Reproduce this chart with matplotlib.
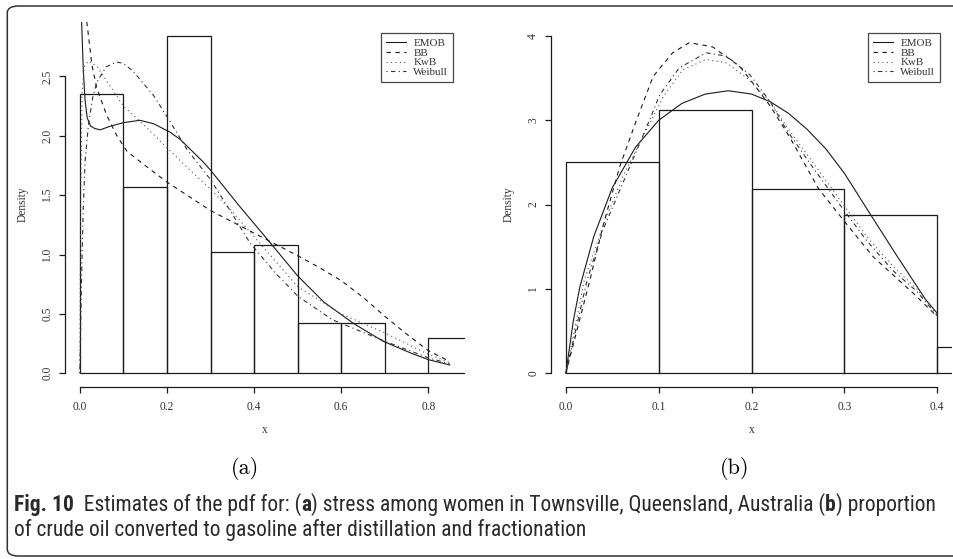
import matplotlib
matplotlib.use("Agg")
import matplotlib.pyplot as plt
from matplotlib import font_manager
from matplotlib.patches import FancyBboxPatch

# ---- data ----
# panel (a): stress among women
hist_a_edges = [0.0, 0.1, 0.2, 0.3, 0.4, 0.5, 0.6, 0.7, 0.8, 0.9]
hist_a_dens = [2.35, 1.57, 2.84, 1.02, 1.08, 0.42, 0.42, 0.0, 0.30]

emob_a_x = [0.004, 0.008, 0.012, 0.017, 0.025, 0.035, 0.047, 0.07, 0.1, 0.138, 0.17,
            0.207, 0.23, 0.283, 0.3, 0.368, 0.43, 0.5, 0.56, 0.628, 0.696, 0.76, 0.8, 0.849]
emob_a_y = [2.97, 2.55, 2.3, 2.15, 2.08, 2.06, 2.05, 2.08, 2.11, 2.13, 2.10,
            2.03, 1.97, 1.78, 1.71, 1.40, 1.13, 0.82, 0.60, 0.42, 0.27, 0.17, 0.115, 0.07]

bb_a_x = [0.016, 0.028, 0.039, 0.062, 0.085, 0.108, 0.146, 0.2, 0.3, 0.4, 0.5,
          0.55, 0.6, 0.65, 0.7, 0.75, 0.8, 0.849]
bb_a_y = [2.96, 2.59, 2.40, 2.17, 2.0, 1.87, 1.76, 1.61, 1.37, 1.18, 0.99,
          0.89, 0.78, 0.64, 0.48, 0.33, 0.19, 0.10]

kwb_a_x = [0.0, 0.002, 0.005, 0.01, 0.02, 0.04, 0.06, 0.08, 0.1, 0.15, 0.2, 0.25,
           0.3, 0.35, 0.4, 0.45, 0.5, 0.6, 0.7, 0.8, 0.849]
kwb_a_y = [0.0, 1.5, 2.35, 2.58, 2.63, 2.58, 2.47, 2.36, 2.25, 2.08, 1.90, 1.72,
           1.55, 1.36, 1.15, 0.94, 0.73, 0.50, 0.34, 0.16, 0.09]

wei_a_x = [0.0, 0.004, 0.008, 0.012, 0.02, 0.03, 0.039, 0.06, 0.085, 0.1, 0.123,
           0.169, 0.207, 0.245, 0.3, 0.345, 0.39, 0.45, 0.5, 0.58, 0.7, 0.8, 0.849]
wei_a_y = [0.0, 0.8, 1.4, 1.78, 2.1, 2.33, 2.45, 2.58, 2.62, 2.61, 2.54,
           2.34, 2.12, 1.89, 1.63, 1.37, 1.10, 0.84, 0.65, 0.45, 0.27, 0.13, 0.08]

# panel (b): crude oil converted to gasoline
hist_b_edges = [0.0, 0.1, 0.2, 0.3, 0.4, 0.5]
hist_b_dens = [2.5, 3.125, 2.1875, 1.875, 0.3125]

emob_b_x = [0.0, 0.008, 0.015, 0.03, 0.05, 0.075, 0.1, 0.125, 0.15, 0.175, 0.2, 0.22,
            0.24, 0.26, 0.28, 0.3, 0.327, 0.356, 0.387, 0.4]
emob_b_y = [0.0, 0.62, 1.02, 1.62, 2.20, 2.68, 3.0, 3.2, 3.31, 3.35, 3.31, 3.22,
            3.08, 2.89, 2.66, 2.37, 1.90, 1.40, 0.88, 0.71]

bb_b_x = [0.0, 0.026, 0.04, 0.058, 0.076, 0.094, 0.115, 0.133, 0.158, 0.187, 0.2,
          0.22, 0.241, 0.272, 0.3, 0.331, 0.374, 0.4]
bb_b_y = [0.0, 1.11, 1.75, 2.45, 3.0, 3.52, 3.80, 3.92, 3.87, 3.64, 3.46,
          3.17, 2.80, 2.19, 1.80, 1.38, 0.95, 0.67]

kwb_b_x = [0.0, 0.02, 0.04, 0.062, 0.087, 0.105, 0.126, 0.151, 0.173, 0.195, 0.22,
           0.238, 0.266, 0.295, 0.324, 0.353, 0.378, 0.4]
kwb_b_y = [0.0, 1.11, 1.75, 2.35, 2.89, 3.28, 3.60, 3.72, 3.68, 3.50, 3.22,
           2.92, 2.50, 2.06, 1.62, 1.26, 1.00, 0.70]

wei_b_x = [0.0, 0.023, 0.04, 0.065, 0.09, 0.101, 0.122, 0.151, 0.173, 0.198, 0.22,
           0.238, 0.266, 0.295, 0.324, 0.353, 0.378, 0.4]
wei_b_y = [0.0, 1.11, 1.70, 2.35, 3.0, 3.30, 3.62, 3.80, 3.76, 3.54, 3.22,
           2.88, 2.44, 2.0, 1.57, 1.21, 0.97, 0.68]

legend_labels = ["EMOB", "BB", "KwB", "Weibull"]

xticks_a = [0.0, 0.2, 0.4, 0.6, 0.8]
yticks_a = [0.0, 0.5, 1.0, 1.5, 2.0, 2.5]
xticks_b = [0.0, 0.1, 0.2, 0.3, 0.4]
yticks_b = [0, 1, 2, 3, 4]

caption_line1 = [("Fig. 10", "bold"), ("  Estimates of the pdf for: (", "normal"), ("a", "bold"),
                 (") stress among women in Townsville, Queensland, Australia (", "normal"),
                 ("b", "bold"), (") proportion", "normal")]
caption_line2 = [("of crude oil converted to gasoline after distillation and fractionation", "normal")]


def pick_caption_font():
    # prefer a narrow sans, the caption face in the reference is condensed
    tries = [("Liberation Sans Narrow", "normal"), ("Roboto Condensed", "normal"),
             ("Open Sans Condensed", "normal"), ("Noto Sans", "condensed"),
             ("DejaVu Sans", "condensed"), ("Open Sans", "condensed")]
    for fam, stretch in tries:
        try:
            path = font_manager.findfont(font_manager.FontProperties(family=fam, stretch=stretch),
                                         fallback_to_default=False)
        except Exception:
            continue
        low = path.lower()
        if "condensed" in low or "narrow" in low:
            return dict(fontfamily=fam, fontstretch=stretch)
    return dict(fontfamily="Open Sans")


SERIF = "Liberation Serif"
CAPFONT = pick_caption_font()
INK = "#1a1a1a"
TXT = "#333333"

W, H = 954, 559
fig = plt.figure(figsize=(W / 100, H / 100), dpi=100)


def px_axes(left, top, right, bottom):
    return fig.add_axes([left / W, 1 - bottom / H, (right - left) / W, (bottom - top) / H])


styles = [
    dict(ls="-", color=INK),
    dict(ls=(0, (4, 4)), color=INK),
    dict(ls=(0, (1, 3)), color="#555555"),
    dict(ls=(0, (1, 3, 4, 3)), color="#333333"),
]


def panel(ax, edges, dens, curves, xlim, ylim, xticks, yticks, xfmt, yfmt):
    ax.bar(edges[:-1], dens, width=[b - a for a, b in zip(edges[:-1], edges[1:])],
           align="edge", fill=False, edgecolor=INK, linewidth=0.9)
    for (cx, cy), st in zip(curves, styles):
        ax.plot(cx, cy, lw=0.8, **st)
    ax.set_xlim(*xlim)
    ax.set_ylim(*ylim)
    for s in ("top", "right"):
        ax.spines[s].set_visible(False)
    ax.spines["left"].set_bounds(yticks[0], yticks[-1])
    ax.spines["bottom"].set_bounds(xticks[0], xticks[-1])
    for s in ("left", "bottom"):
        ax.spines[s].set_color(INK)
        ax.spines[s].set_linewidth(0.9)
    ax.set_xticks(xticks)
    ax.set_xticklabels([xfmt.format(v) for v in xticks], fontfamily=SERIF, fontsize=8.3)
    ax.set_yticks(yticks)
    ax.set_yticklabels([yfmt.format(v) for v in yticks], fontfamily=SERIF, fontsize=8.3,
                       rotation=90, va="center")
    ax.tick_params(direction="out", length=4.5, width=0.9, color=INK, labelcolor=TXT)
    ax.tick_params(axis="x", pad=6.0)
    ax.tick_params(axis="y", pad=4.0)
    ax.set_xlabel("x", fontfamily=SERIF, fontsize=8.3, color=TXT, labelpad=8)
    ax.set_ylabel("Density", fontfamily=SERIF, fontsize=8.3, color=TXT, labelpad=9)
    ax.patch.set_alpha(0)
    leg = ax.legend(ax.lines, legend_labels, loc="upper right",
                    bbox_to_anchor=(1 - 12 / 400, 1 - 11 / 364.4), borderaxespad=0,
                    fancybox=False, frameon=True, handlelength=1.8, handletextpad=0.7,
                    labelspacing=0.0, borderpad=0.45,
                    prop=dict(family=SERIF, size=7.9))
    leg.get_frame().set_edgecolor(INK)
    leg.get_frame().set_linewidth(0.9)
    for t in leg.get_texts():
        t.set_color(TXT)


ax_a = px_axes(65, 22.4, 465, 386.8)
panel(ax_a, hist_a_edges, hist_a_dens,
      [(emob_a_x, emob_a_y), (bb_a_x, bb_a_y), (kwb_a_x, kwb_a_y), (wei_a_x, wei_a_y)],
      (-0.034, 0.884), (-0.1136, 2.954), xticks_a, yticks_a, "{:.1f}", "{:.1f}")

ax_b = px_axes(551, 22.4, 952.2, 386.8)
panel(ax_b, hist_b_edges, hist_b_dens,
      [(emob_b_x, emob_b_y), (bb_b_x, bb_b_y), (kwb_b_x, kwb_b_y), (wei_b_x, wei_b_y)],
      (-0.016, 0.416), (-0.16, 4.16), xticks_b, yticks_b, "{:.1f}", "{:d}")

# sub-figure labels
fig.text(245 / W, 1 - 468 / H, "(a)", fontfamily="cmr10", fontsize=16, ha="center", va="center")
fig.text(735 / W, 1 - 468 / H, "(b)", fontfamily="cmr10", fontsize=16, ha="center", va="center")

# rounded frame
fig.add_artist(FancyBboxPatch((7.3 / W, 3 / H), 980 / W, 550 / H,
                              boxstyle="round,pad=0,rounding_size=0.012",
                              transform=fig.transFigure, facecolor="none",
                              edgecolor="#333333", linewidth=1.1, clip_on=False))

# caption, drawn run by run so parts can be bold
renderer = fig.canvas.get_renderer()


def advance(text, weight, size):
    probe = fig.text(0, 0, text + "|", fontweight=weight, fontsize=size, **CAPFONT)
    bar = fig.text(0, 0, "|", fontweight=weight, fontsize=size, **CAPFONT)
    w = probe.get_window_extent(renderer).width - bar.get_window_extent(renderer).width
    probe.remove()
    bar.remove()
    return w


cap_size = 14
full = sum(advance(t, wgt, cap_size) for t, wgt in caption_line1)
cap_size = cap_size * (943 - 14) / full

for runs, base in ((caption_line1, 511), (caption_line2, 536)):
    x = 14.0
    for text, weight in runs:
        fig.text(x / W, 1 - base / H, text, fontweight=weight, fontsize=cap_size,
                 va="baseline", ha="left", color="#2a2a2a", **CAPFONT)
        x += advance(text, weight, cap_size)

fig.savefig("out.png", dpi=100)
